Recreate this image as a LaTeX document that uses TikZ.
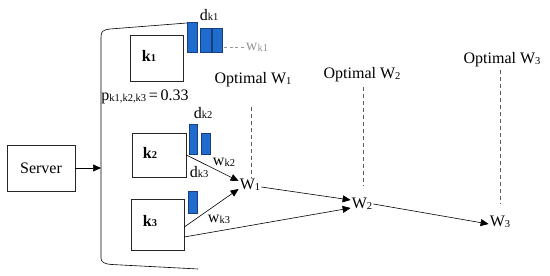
\documentclass[tikz,border=0pt]{standalone}
\usepackage{fontspec}
\setmainfont{Liberation Serif}
\usetikzlibrary{arrows.meta}
\definecolor{barblue}{RGB}{32,108,204}
\definecolor{barline}{RGB}{24,62,130}
\definecolor{dashgray}{RGB}{90,90,90}
\definecolor{wgray}{RGB}{150,150,150}
\newcommand\sbs[1]{{\fontsize{10.5}{12}\selectfont\raisebox{-0.8pt}{#1}}}
\tikzset{
 box/.style={draw=black!85, line width=0.6pt, fill=white, inner sep=0pt},
 lbl/.style={inner sep=0pt, font=\fontsize{16}{19}\selectfont},
 klbl/.style={inner sep=0pt, font=\fontsize{16}{19}\selectfont\bfseries},
 wnode/.style={inner sep=1pt, font=\fontsize{16}{19}\selectfont},
 bar/.style={fill=barblue, draw=barline, line width=0.6pt},
 arr/.style={line width=0.6pt, -{Triangle[length=8pt,width=7pt]}},
 conn/.style={line width=0.6pt},
 optdash/.style={dash pattern=on 4pt off 3pt, draw=dashgray, line width=0.6pt},
 graydash/.style={dash pattern=on 3pt off 2.5pt, draw=wgray, line width=0.6pt},
}
\begin{document}
\begin{tikzpicture}[x=1pt,y=-1pt]
\useasboundingbox (0,0) rectangle (550,276);

% server
\node[box, minimum width=68, minimum height=46, font=\fontsize{16}{19}\selectfont] (server) at (41,168) {Server};
\coordinate (bin) at (101,168);

% bracket
\draw[conn] (187,23) -- (110,29) .. controls (103,30) and (101,31) .. (101,37) -- (101,258)
  .. controls (101,262) and (104,264) .. (112,264.5) .. controls (140,266) and (170,267.5) .. (198,269);
\draw[arr] (server.east |- bin) -- (bin);

% boxes
\node[box, minimum width=53, minimum height=46] (k1) at (156.5,58) {};
\node[box, minimum width=54, minimum height=44] (k2) at (159,155) {};
\node[box, minimum width=53, minimum height=51] (k3) at (157.5,224.5) {};
\node[klbl] (kl1) at (149,56) {k\sbs{1}};
\node[klbl] (kl2) at (150,153) {k\sbs{2}};
\node[klbl] (kl3) at (150,221) {k\sbs{3}};

% bars
\draw[bar] (187,22) rectangle (197,52);
\draw[bar] (200,28) rectangle (211,52);
\draw[bar] (212,28) rectangle (222,52);
\draw[bar] (189,124) rectangle (197,154);
\draw[bar] (201,133) rectangle (210,154);
\draw[bar] (188,191) rectangle (197,213);

% labels
\node[lbl] (dk1) at (209,15) {d\sbs{k1}};
\node[lbl, text=wgray] (wk1) at (257,47) {w\sbs{k1}};
\coordinate (wk1s) at (224,47);
\draw[graydash] (wk1s) -- (wk1.west);
\node[lbl] (p) at (145,97) {p\sbs{k1,k2,k3}\,=\,0.33};
\node[lbl] (dk2) at (203,113) {d\sbs{k2}};
\node[lbl] (wk2) at (224,162) {w\sbs{k2}};
\node[lbl] (dk3) at (199,172) {d\sbs{k3}};
\node[lbl] (wk3) at (219,219) {w\sbs{k3}};

% W nodes
\node[wnode] (W1) at (250,185) {W\sbs{1}};
\node[wnode] (W2) at (362,204) {W\sbs{2}};
\node[wnode] (W3) at (500,222) {W\sbs{3}};

% optimal labels
\node[lbl] (o1) at (253,80) {Optimal W\sbs{1}};
\node[lbl] (o2) at (362,75) {Optimal W\sbs{2}};
\node[lbl] (o3) at (502,60) {Optimal W\sbs{3}};
\coordinate (d1a) at (251,107); \coordinate (d1b) at (251,178);
\coordinate (d2a) at (363,87);  \coordinate (d2b) at (363,186);
\coordinate (d3a) at (500,70);  \coordinate (d3b) at (500,204);
\draw[optdash] (d1a) -- (d1b);
\draw[optdash] (d2a) -- (d2b);
\draw[optdash] (d3a) -- (d3b);

% connectors
\draw[arr] (k2.east) -- ([yshift=4]W1.west);
\draw[arr] ([yshift=-2.5]k3.east) -- ([yshift=-4]W1.west);
\draw[arr] ([yshift=-2]W1.east) -- ([yshift=4]W2.west);
\draw[arr] ([yshift=-12.5]k3.east) -- ([yshift=-4]W2.west);
\draw[arr] (W2.east) -- ([yshift=-2]W3.west);
\end{tikzpicture}
\end{document}
